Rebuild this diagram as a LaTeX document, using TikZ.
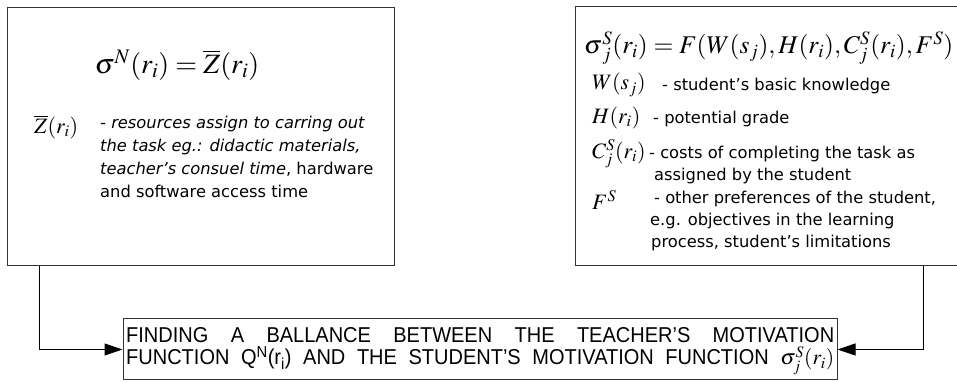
\documentclass[tikz,border=0pt]{standalone}
\usepackage{amsmath}
\usepackage{mathptmx}
\usepackage{fontspec}
\setsansfont{DejaVu Sans}
\newfontfamily\condfont[FakeStretch=0.93]{Liberation Sans}
\usetikzlibrary{arrows.meta}
\tikzset{
  panel/.style={draw=black!80, line width=1pt, inner sep=0pt},
  feed/.style={draw, line width=1pt, -{Triangle[length=18pt,width=12pt]}},
  note/.style={anchor=base west, inner sep=0pt, font=\sffamily\fontsize{16.3}{19}\selectfont},
  sym/.style={anchor=west, inner sep=0pt, font=\fontsize{22}{26}\selectfont},
  banner/.style={anchor=base west, inner sep=0pt, font=\condfont\fontsize{21.5}{26}\selectfont},
}
\begin{document}
\begin{tikzpicture}[x=1pt, y=1pt, font=\sffamily]
    \useasboundingbox (0,0) rectangle (957,382);
    \node[panel, minimum width=387pt, minimum height=258pt] (teacher) at (200.5,245) {};
    \node[panel, minimum width=385pt, minimum height=259pt] (student) at (767.5,245.5) {};
    \node[panel, minimum width=714pt, minimum height=61pt] (balance) at (480,32.5) {};
    \draw[feed] (teacher.south west) ++(33,0) |- (balance.west);
    \draw[feed] (student.south west) ++(349,0) |- (balance.east);
    \node[font=\fontsize{28}{32}\selectfont] (tform) at (177,317)
      {$\boldsymbol{\sigma}^{N}(r_{i})=\overline{Z}(r_{i})$};
    \node[sym] (tsym) at (34,255) {$\overline{Z}(r_{i})$};
    \foreach \t [count=\k] in {{\textit{- resources assign to carring out}},
        {\textit{the task eg.: didactic materials,}},
        {\textit{teacher’s consuel time}, hardware},
        {and software access time}} {
      \node[note] (tnote\k) at (100, 253-22.7*\k+22.7) {\t};
    }
    \node[anchor=west, inner sep=0pt, font=\fontsize{25.5}{30}\selectfont] (sform) at (584,334)
      {$\boldsymbol{\sigma}^{S}_{j}(r_{i})=F(W(s_{j}),H(r_{i}),C^{S}_{j}(r_{i}),F^{S})$};
    \foreach \s/\y [count=\k] in {{W(s_{j})}/297, {H(r_{i})}/264, {C^{S}_{j}(r_{i})}/228, {F^{S}}/182} {
      \node[sym] (ssym\k) at (592,\y) {$\s$};
    }
    \foreach \t/\x/\y [count=\k] in {{- student’s basic knowledge}/662/291,
        {- potential grade}/653/258,
        {- costs of completing the task as}/649/223,
        {assigned by the student}/654/201,
        {- other preferences of the student,}/654/178,
        {e.g. objectives in the learning}/650/156,
        {process, student’s limitations}/651/134} {
      \node[note] (snote\k) at (\x,\y) {\t};
    }
    \node[banner] (bline1) at (126,39)
      {\makebox[708pt][s]{FINDING A BALLANCE BETWEEN THE TEACHER’S MOTIVATION}};
    \node[banner] (bline2) at (126,17)
      {\makebox[708pt][s]{FUNCTION Q\textsuperscript{N}(r\textsubscript{i}) AND THE STUDENT’S MOTIVATION FUNCTION $\sigma^{S}_{j}(r_{i})$}};
\end{tikzpicture}
\end{document}
